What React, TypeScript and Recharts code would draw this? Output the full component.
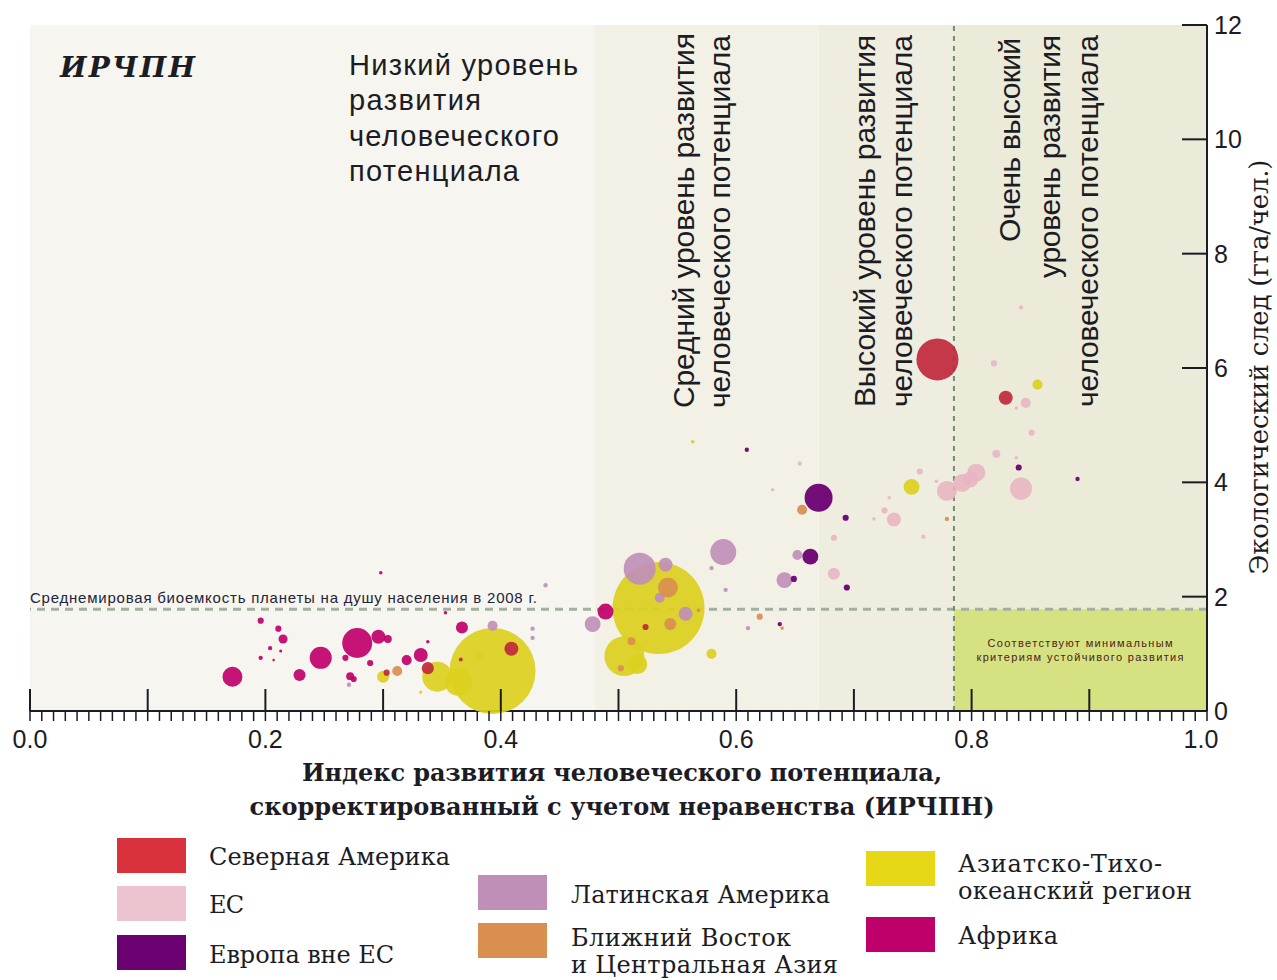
import {
  ScatterChart,
  Scatter,
  XAxis,
  YAxis,
  ZAxis,
  ReferenceArea,
  ReferenceLine,
} from "recharts";

type Pt = { x: number; y: number; z: number };

// x = ИРЧПН, y = экологический след (гга/чел.), z = население (млн)
const northAmerica: Pt[] = [
  { x: 0.771, y: 6.15, z: 280 },
  { x: 0.829, y: 5.48, z: 31 },
  { x: 0.409, y: 1.09, z: 31 },
  { x: 0.338, y: 0.75, z: 23 },
  { x: 0.303, y: 0.67, z: 6 },
  { x: 0.523, y: 1.47, z: 6 },
  { x: 0.366, y: 0.9, z: 2.5 },
];

const eu: Pt[] = [
  { x: 0.842, y: 7.06, z: 3 },
  { x: 0.819, y: 6.08, z: 6 },
  { x: 0.846, y: 5.39, z: 16 },
  { x: 0.838, y: 5.3, z: 2 },
  { x: 0.851, y: 4.87, z: 6 },
  { x: 0.821, y: 4.5, z: 10 },
  { x: 0.838, y: 4.43, z: 2 },
  { x: 0.804, y: 4.17, z: 51 },
  { x: 0.799, y: 4.05, z: 40 },
  { x: 0.792, y: 3.99, z: 51 },
  { x: 0.779, y: 3.85, z: 63 },
  { x: 0.842, y: 3.89, z: 77 },
  { x: 0.756, y: 4.19, z: 6 },
  { x: 0.77, y: 4.02, z: 2 },
  { x: 0.73, y: 3.73, z: 2 },
  { x: 0.726, y: 3.51, z: 6 },
  { x: 0.734, y: 3.35, z: 31 },
  { x: 0.717, y: 3.36, z: 2 },
  { x: 0.683, y: 3.03, z: 6 },
  { x: 0.683, y: 2.4, z: 23 },
  { x: 0.654, y: 4.33, z: 3 },
  { x: 0.759, y: 3.05, z: 3 },
  { x: 0.631, y: 3.87, z: 2 },
];

const europeNonEu: Pt[] = [
  { x: 0.67, y: 3.73, z: 124 },
  { x: 0.663, y: 2.7, z: 40 },
  { x: 0.693, y: 3.38, z: 6 },
  { x: 0.694, y: 2.16, z: 6 },
  { x: 0.609, y: 4.57, z: 3 },
  { x: 0.649, y: 2.31, z: 6 },
  { x: 0.637, y: 1.52, z: 3 },
  { x: 0.84, y: 4.26, z: 6 },
  { x: 0.89, y: 4.06, z: 3 },
];

const latinAmerica: Pt[] = [
  { x: 0.518, y: 2.49, z: 162 },
  { x: 0.54, y: 2.56, z: 31 },
  { x: 0.589, y: 2.78, z: 107 },
  { x: 0.652, y: 2.73, z: 16 },
  { x: 0.641, y: 2.29, z: 40 },
  { x: 0.579, y: 2.5, z: 3 },
  { x: 0.591, y: 2.12, z: 3 },
  { x: 0.535, y: 1.98, z: 16 },
  { x: 0.557, y: 1.7, z: 31 },
  { x: 0.478, y: 1.52, z: 40 },
  { x: 0.393, y: 1.49, z: 16 },
  { x: 0.427, y: 1.44, z: 3 },
  { x: 0.427, y: 1.28, z: 3 },
  { x: 0.438, y: 2.2, z: 3 },
  { x: 0.271, y: 0.46, z: 3 },
  { x: 0.61, y: 1.45, z: 3 },
];

const middleEast: Pt[] = [
  { x: 0.656, y: 3.52, z: 16 },
  { x: 0.542, y: 2.16, z: 63 },
  { x: 0.544, y: 1.52, z: 23 },
  { x: 0.62, y: 1.65, z: 6 },
  { x: 0.568, y: 1.76, z: 2 },
  { x: 0.639, y: 1.45, z: 2 },
  { x: 0.312, y: 0.7, z: 16 },
  { x: 0.779, y: 3.36, z: 3 },
  { x: 0.511, y: 1.22, z: 10 },
  { x: 0.502, y: 0.75, z: 6 },
];

const asiaPacific: Pt[] = [
  { x: 0.534, y: 1.8, z: 1340 },
  { x: 0.393, y: 0.7, z: 1170 },
  { x: 0.505, y: 0.96, z: 253 },
  { x: 0.516, y: 0.82, z: 63 },
  { x: 0.346, y: 0.6, z: 142 },
  { x: 0.364, y: 0.51, z: 124 },
  { x: 0.3, y: 0.6, z: 23 },
  { x: 0.381, y: 0.96, z: 10 },
  { x: 0.579, y: 1.0, z: 16 },
  { x: 0.749, y: 3.92, z: 40 },
  { x: 0.856, y: 5.71, z: 16 },
  { x: 0.563, y: 4.71, z: 2 },
  { x: 0.332, y: 0.33, z: 1.5 },
];

const africa: Pt[] = [
  { x: 0.172, y: 0.6, z: 63 },
  { x: 0.196, y: 1.58, z: 6 },
  { x: 0.211, y: 1.44, z: 6 },
  { x: 0.215, y: 1.26, z: 13 },
  { x: 0.204, y: 1.1, z: 3 },
  { x: 0.213, y: 1.05, z: 1.5 },
  { x: 0.196, y: 0.93, z: 3 },
  { x: 0.207, y: 0.89, z: 1 },
  { x: 0.229, y: 0.63, z: 23 },
  { x: 0.247, y: 0.93, z: 77 },
  { x: 0.268, y: 0.93, z: 6 },
  { x: 0.278, y: 1.19, z: 142 },
  { x: 0.296, y: 1.3, z: 31 },
  { x: 0.304, y: 1.26, z: 10 },
  { x: 0.289, y: 0.84, z: 6 },
  { x: 0.332, y: 0.98, z: 31 },
  { x: 0.32, y: 0.89, z: 16 },
  { x: 0.272, y: 0.61, z: 10 },
  { x: 0.275, y: 0.56, z: 6 },
  { x: 0.298, y: 2.42, z: 2 },
  { x: 0.353, y: 1.72, z: 2 },
  { x: 0.367, y: 1.46, z: 23 },
  { x: 0.338, y: 1.21, z: 2 },
  { x: 0.489, y: 1.74, z: 40 },
];

const worldBiocapacity = 1.78;
const veryHighThreshold = 0.785;
const bandEdges = [0, 0.48, 0.67, 0.785, 1];
const bandFills = ["#f6f5ef", "#f3f1e5", "#efeddf", "#ecead9"];

const xTicks = Array.from({ length: 101 }, (_, i) => i / 100);
const yTicks = [0, 2, 4, 6, 8, 10, 12];

const SANS = "'Liberation Sans', Arial, sans-serif";
const SERIF = "'DejaVu Serif', serif";
const INK = "#1c1c24";

const XTick = (props: any) => {
  const { x, y, payload } = props;
  const i = Math.round(payload.value * 100);
  return (
    <g>
      <line x1={x} x2={x} y1={y} y2={y + 10} stroke={INK} strokeWidth={1.5} />
      {i % 10 === 0 && (
        <line x1={x} x2={x} y1={y} y2={y - 22} stroke={INK} strokeWidth={2} />
      )}
      {i % 20 === 0 && (
        <text
          x={i === 100 ? x - 6 : x}
          y={y + 37}
          textAnchor="middle"
          fontFamily={SANS}
          fontSize={25}
          fill={INK}
        >
          {(i / 100).toFixed(1)}
        </text>
      )}
    </g>
  );
};

const YTick = (props: any) => {
  const { x, y, payload } = props;
  return (
    <g>
      <line x1={x - 25} x2={x} y1={y} y2={y} stroke={INK} strokeWidth={2} />
      <text x={x + 7} y={y + 9} fontFamily={SANS} fontSize={25} fill={INK}>
        {payload.value}
      </text>
    </g>
  );
};

const legendItems = [
  { label: ["Северная Америка"], color: "#d9323c", sx: 117, sy: 838, tx: 209, ty: 865, w: [241] },
  { label: ["ЕС"], color: "#ecc4d0", sx: 117, sy: 886, tx: 209, ty: 913, w: [35] },
  { label: ["Европа вне ЕС"], color: "#6b0070", sx: 117, sy: 935, tx: 209, ty: 963, w: [185] },
  { label: ["Латинская Америка"], color: "#c08fb8", sx: 478, sy: 875, tx: 571, ty: 903, w: [259] },
  { label: ["Ближний Восток", "и Центральная Азия"], color: "#d98f4f", sx: 478, sy: 923, tx: 571, ty: 946, w: [220, 267] },
  { label: ["Азиатско-Тихо-", "океанский регион"], color: "#e6d816", sx: 866, sy: 851, tx: 958, ty: 872, w: [204, 234] },
  { label: ["Африка"], color: "#c0006a", sx: 866, sy: 917, tx: 958, ty: 944, w: [100] },
];

const Rot = ({ x, y, len, children }: any) => (
  <text
    x={x}
    y={y}
    transform={`rotate(-90 ${x} ${y})`}
    fontFamily={SANS}
    fontSize={30}
    fill={INK}
    textLength={len}
  >
    {children}
  </text>
);

const Overlay = () => (
  <svg
    width={1277}
    height={980}
    style={{ position: "absolute", left: 0, top: 0, pointerEvents: "none" }}
  >
    <text x={60} y={77} fontFamily={SERIF} fontWeight="bold" fontStyle="italic" fontSize={28} fill={INK} textLength={135}>
      ИРЧПН
    </text>
    <g fontFamily={SANS} fontSize={29} fill={INK}>
      <text x={349} y={75} textLength={229}>Низкий уровень</text>
      <text x={349} y={110} textLength={132}>развития</text>
      <text x={349} y={146} textLength={210}>человеческого</text>
      <text x={349} y={181} textLength={170}>потенциала</text>
    </g>
    <Rot x={694} y={408} len={375}>Средний уровень развития</Rot>
    <Rot x={730} y={408} len={373}>человеческого потенциала</Rot>
    <Rot x={875} y={407} len={372}>Высокий уровень развития</Rot>
    <Rot x={912} y={407} len={372}>человеческого потенциала</Rot>
    <Rot x={1020} y={242} len={204}>Очень высокий</Rot>
    <Rot x={1060} y={278} len={243}>уровень развития</Rot>
    <Rot x={1098} y={407} len={372}>человеческого потенциала</Rot>

    <text x={30} y={603} fontFamily={SANS} fontSize={15} fill="#23233a" textLength={507}>
      Среднемировая биоемкость планеты на душу населения в 2008 г.
    </text>
    <g fontFamily={SANS} fontSize={11} fill="#4a2418" textAnchor="middle">
      <text x={1080} y={647} textLength={185}>Соответствуют минимальным</text>
      <text x={1080} y={661} textLength={207}>критериям устойчивого развития</text>
    </g>

    <text
      x={1268}
      y={367}
      transform="rotate(-90 1268 367)"
      textAnchor="middle"
      fontFamily={SERIF}
      fontSize={26}
      fill={INK}
      textLength={415}
    >
      Экологический след (гга/чел.)
    </text>

    <g fontFamily={SERIF} fontWeight="bold" fontSize={24} fill={INK} textAnchor="middle">
      <text x={622} y={781} textLength={640}>Индекс развития человеческого потенциала,</text>
      <text x={622} y={815} textLength={745}>скорректированный с учетом неравенства (ИРЧПН)</text>
    </g>

    {legendItems.map((it) => (
      <g key={it.label[0]}>
        <rect x={it.sx} y={it.sy} width={69} height={35} fill={it.color} />
        {it.label.map((l, k) => (
          <text
            key={l}
            x={it.tx}
            y={it.ty + k * 27}
            fontFamily={SERIF}
            fontSize={24}
            fill={INK}
            textLength={it.w[k]}
          >
            {l}
          </text>
        ))}
      </g>
    ))}
  </svg>
);

const App = () => (
  <div style={{ position: "relative", width: 1277, height: 980, background: "#fff" }}>
    <style>{"body{margin:0}"}</style>
    <ScatterChart
      width={1277}
      height={830}
      margin={{ top: 25, right: 10, bottom: 9, left: 30 }}
    >
      {bandFills.map((f, i) => (
        <ReferenceArea
          key={f}
          x1={bandEdges[i]}
          x2={bandEdges[i + 1]}
          y1={0}
          y2={12}
          fill={f}
          fillOpacity={1}
          stroke="none"
        />
      ))}
      <ReferenceArea
        x1={veryHighThreshold}
        x2={1}
        y1={0}
        y2={worldBiocapacity}
        fill="#d6e182"
        fillOpacity={1}
        stroke="none"
      />
      <XAxis
        type="number"
        dataKey="x"
        domain={[0, 1]}
        ticks={xTicks}
        interval={0}
        tickSize={0}
        tickMargin={0}
        tickLine={false}
        axisLine={{ stroke: INK, strokeWidth: 2 }}
        tick={XTick}
        height={110}
      />
      <YAxis
        type="number"
        dataKey="y"
        orientation="right"
        domain={[0, 12]}
        ticks={yTicks}
        interval={0}
        tickSize={0}
        tickMargin={0}
        tickLine={false}
        axisLine={{ stroke: INK, strokeWidth: 2 }}
        tick={YTick}
        width={60}
      />
      <ZAxis type="number" dataKey="z" domain={[0, 1340]} range={[0, 6648]} />
      <Scatter name="Азиатско-Тихоокеанский регион" data={asiaPacific} fill="#dcd01e" fillOpacity={0.92} isAnimationActive={false} />
      <Scatter name="Африка" data={africa} fill="#c0006a" fillOpacity={0.92} isAnimationActive={false} />
      <Scatter name="Латинская Америка" data={latinAmerica} fill="#c08fb8" fillOpacity={0.92} isAnimationActive={false} />
      <Scatter name="Ближний Восток и Центральная Азия" data={middleEast} fill="#d98f4f" fillOpacity={0.92} isAnimationActive={false} />
      <Scatter name="Европа вне ЕС" data={europeNonEu} fill="#6b0072" fillOpacity={0.95} isAnimationActive={false} />
      <Scatter name="ЕС" data={eu} fill="#e8b6c2" fillOpacity={0.9} isAnimationActive={false} />
      <Scatter name="Северная Америка" data={northAmerica} fill="#c0283c" fillOpacity={0.92} isAnimationActive={false} />
      <ReferenceLine
        y={worldBiocapacity}
        stroke="#a3b09f"
        strokeWidth={3}
        strokeDasharray="8 6"
      />
      <ReferenceLine
        x={veryHighThreshold}
        stroke="#6f8f74"
        strokeWidth={2}
        strokeDasharray="5 5"
      />
    </ScatterChart>
    <Overlay />
  </div>
);

export default App;
